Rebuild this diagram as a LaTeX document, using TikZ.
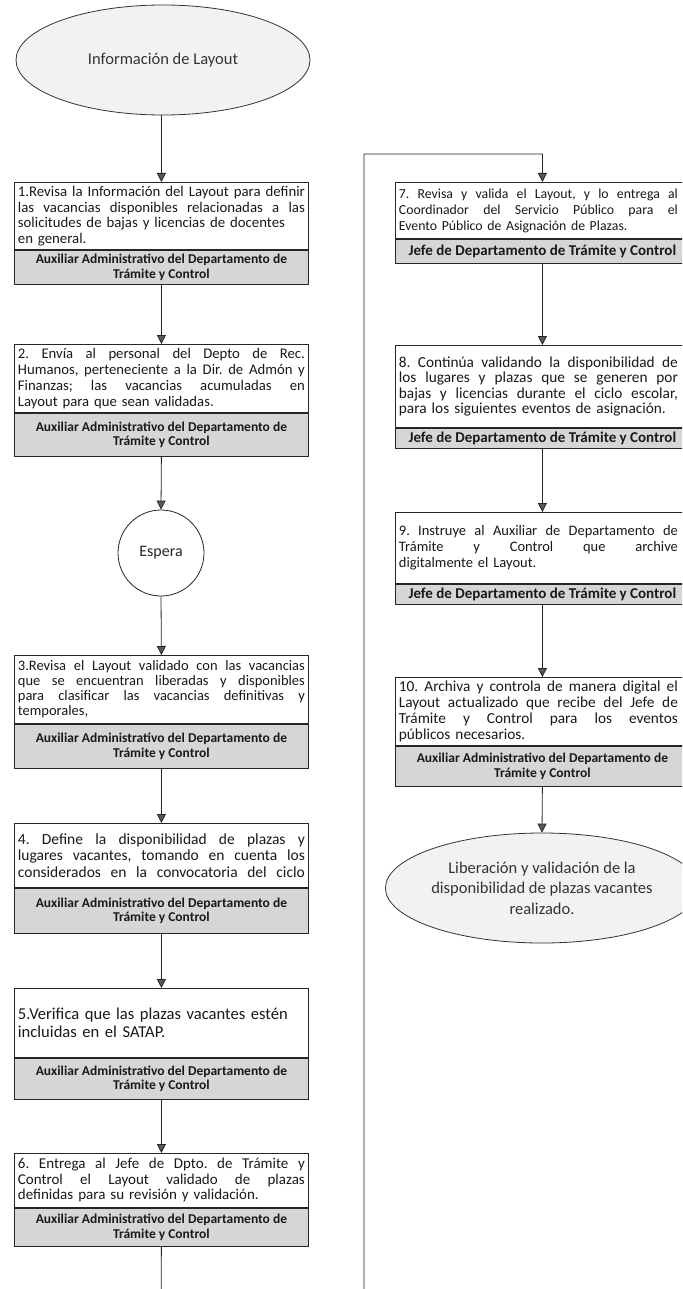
\documentclass[tikz,border=0pt]{standalone}
\usepackage{fontspec}
\setmainfont{Carlito}
\usetikzlibrary{arrows.meta,shapes.geometric}
\newcommand{\jl}[1]{\leavevmode\hbox to \hsize{\spaceskip=\fontdimen2\font plus 1fil\relax\xspaceskip=\spaceskip #1}}
\newcommand{\jr}[1]{\leavevmode\hbox to \dimexpr\hsize-8pt\relax{\spaceskip=\fontdimen2\font plus 1fil\relax\xspaceskip=\spaceskip #1}}
\newcommand{\fsz}[2]{\fontsize{#1}{#2}\selectfont\frenchspacing}
\newcommand{\lblfnt}{\bfseries\fontsize{13.5}{14.5}\selectfont}
\newcommand{\lblfntb}{\bfseries\fontsize{15}{16}\selectfont}
\begin{document}
\begin{tikzpicture}[x=1pt,y=-1pt,
  wbox/.style={draw=black!85,line width=0.8pt,fill=white,minimum width=294pt,text width=287pt,inner xsep=3.5pt,inner ysep=0pt,anchor=north west,font=\fsz{14.5}{15.5},text=black!90},
  gbox/.style={draw=black!85,line width=0.8pt,fill=gray!32,minimum width=294pt,inner sep=0pt,anchor=north west,align=center,font=\lblfnt,text=black!90},
  conn/.style={draw=black!85,line width=0.8pt,-{Triangle[width=9pt,length=9pt,fill=black!65]}},
  term/.style={ellipse,draw=black!80,line width=0.8pt,fill=gray!10,minimum width=294pt,minimum height=110pt,inner sep=0pt,align=center,font=\fsz{16.5}{20.5},text=black!80},
  wait/.style={circle,draw=black!85,line width=0.8pt,fill=white,minimum size=86pt,inner sep=0pt,font=\fsz{16}{18},text=black!85}
]
\useasboundingbox (0,0) rectangle (682,1289);
\clip (0,0) rectangle (682,1289);
\fill[white] (0,0) rectangle (682,1289);

% ---------------- left column
\node[term] (e1) at (163,60) {Información de Layout};

\node[wbox,minimum height=67pt,font=\fsz{14.8}{15.5}] (b1) at (14,182) {\jl{1.Revisa la Información del Layout para definir}\\\jl{las vacancias disponibles relacionadas a las}\\solicitudes de bajas y licencias de docentes\\en general.};
\node[gbox,minimum height=34pt] (b1g) at (b1.south west) {Auxiliar Administrativo del Departamento de\\Trámite y Control};

\node[wbox,minimum height=68pt,font=\fsz{14.7}{16}] (b2) at (14,344) {\jl{2. Envía al personal del Depto de Rec.}\\\jl{Humanos, perteneciente a la Dir. de Admón y}\\\jl{Finanzas; las vacancias acumuladas en}\\Layout para que sean validadas.};
\node[gbox,minimum height=43pt] (b2g) at (b2.south west) {Auxiliar Administrativo del Departamento de\\Trámite y Control};

\node[wait] (w) at (161,553) {Espera};

\node[wbox,minimum height=68pt,font=\fsz{14.5}{15}] (b3) at (14,655) {\jl{3.Revisa el Layout validado con las vacancias}\\\jl{que se encuentran liberadas y disponibles}\\\jl{para clasificar las vacancias definitivas y}\\temporales,};
\node[gbox,minimum height=44pt] (b3g) at (b3.south west) {Auxiliar Administrativo del Departamento de\\Trámite y Control};

\node[wbox,minimum height=64pt,font=\fsz{15.5}{16.5}] (b4) at (14,823) {\jl{4. Define la disponibilidad de plazas y}\\\jl{lugares vacantes, tomando en cuenta los}\\\jl{considerados en la convocatoria del ciclo}};
\node[gbox,minimum height=45pt] (b4g) at (b4.south west) {Auxiliar Administrativo del Departamento de\\Trámite y Control};

\node[wbox,minimum height=69pt,font=\fsz{16.6}{17.5}] (b5) at (14,988) {5.Verifica que las plazas vacantes estén\\incluidas en el SATAP.};
\node[gbox,minimum height=41pt] (b5g) at (b5.south west) {Auxiliar Administrativo del Departamento de\\Trámite y Control};

\node[wbox,minimum height=54pt,font=\fsz{15}{15.5}] (b6) at (14,1153) {\jl{6. Entrega al Jefe de Dpto. de Trámite y}\\\jl{Control el Layout validado de plazas}\\definidas para su revisión y validación.};
\node[gbox,minimum height=38pt] (b6g) at (b6.south west) {Auxiliar Administrativo del Departamento de\\Trámite y Control};

% ---------------- right column (boxes run past the right edge, as in the reference)
\node[wbox,minimum height=56pt,font=\fsz{13.8}{16}] (b7) at (395,182) {\jr{7. Revisa y valida el Layout, y lo entrega al}\\\jr{Coordinador del Servicio Público para el}\\Evento Público de Asignación de Plazas.};
\node[gbox,minimum height=24pt,font=\lblfntb] (b7g) at (b7.south west) {Jefe de Departamento de Trámite y Control};

\node[wbox,minimum height=82pt,font=\fsz{15.3}{15.5}] (b8) at (395,345) {\jr{8. Continúa validando la disponibilidad de}\\\jr{los lugares y plazas que se generen por}\\\jr{bajas y licencias durante el ciclo escolar,}\\para los siguientes eventos de asignación.};
\node[gbox,minimum height=20pt,font=\lblfntb] (b8g) at (b8.south west) {Jefe de Departamento de Trámite y Control};

\node[wbox,minimum height=71pt,font=\fsz{14.5}{16}] (b9) at (395,512) {\jr{9. Instruye al Auxiliar de Departamento de}\\\jr{Trámite y Control que archive}\\digitalmente el Layout.};
\node[gbox,minimum height=20pt,font=\lblfntb] (b9g) at (b9.south west) {Jefe de Departamento de Trámite y Control};

\node[wbox,minimum height=68pt,font=\fsz{15.3}{16}] (b10) at (395,677) {\jr{10. Archiva y controla de manera digital el}\\\jr{Layout actualizado que recibe del Jefe de}\\\jr{Trámite y Control para los eventos}\\públicos necesarios.};
\node[gbox,minimum height=40pt] (b10g) at (b10.south west) {Auxiliar Administrativo del Departamento de\\Trámite y Control};

\node[term,minimum width=296pt] (e2) at (542,888) {Liberación y validación de la\\disponibilidad de plazas vacantes\\realizado.};

% ---------------- connectors
\coordinate (lb) at (161,1320);
\coordinate (rb) at (364,1320);
\coordinate (rt) at (364,154);

\draw[conn] (e1.south -| b1.north) -- (b1.north);
\draw[conn] (b1g.south) -- (b2.north);
\draw[conn] (b2g.south) -- (w.north);
\draw[conn] (w.south) -- (b3.north);
\draw[conn] (b3g.south) -- (b4.north);
\draw[conn] (b4g.south) -- (b5.north);
\draw[conn] (b5g.south) -- (b6.north);
\draw[conn] (b6g.south) -- (lb) -- (rb) -- (rt) -| (b7.north);
\draw[conn] (b7g.south) -- (b8.north);
\draw[conn] (b8g.south) -- (b9.north);
\draw[conn] (b9g.south) -- (b10.north);
\draw[conn] (b10g.south) -- (e2.north);
\end{tikzpicture}
\end{document}
